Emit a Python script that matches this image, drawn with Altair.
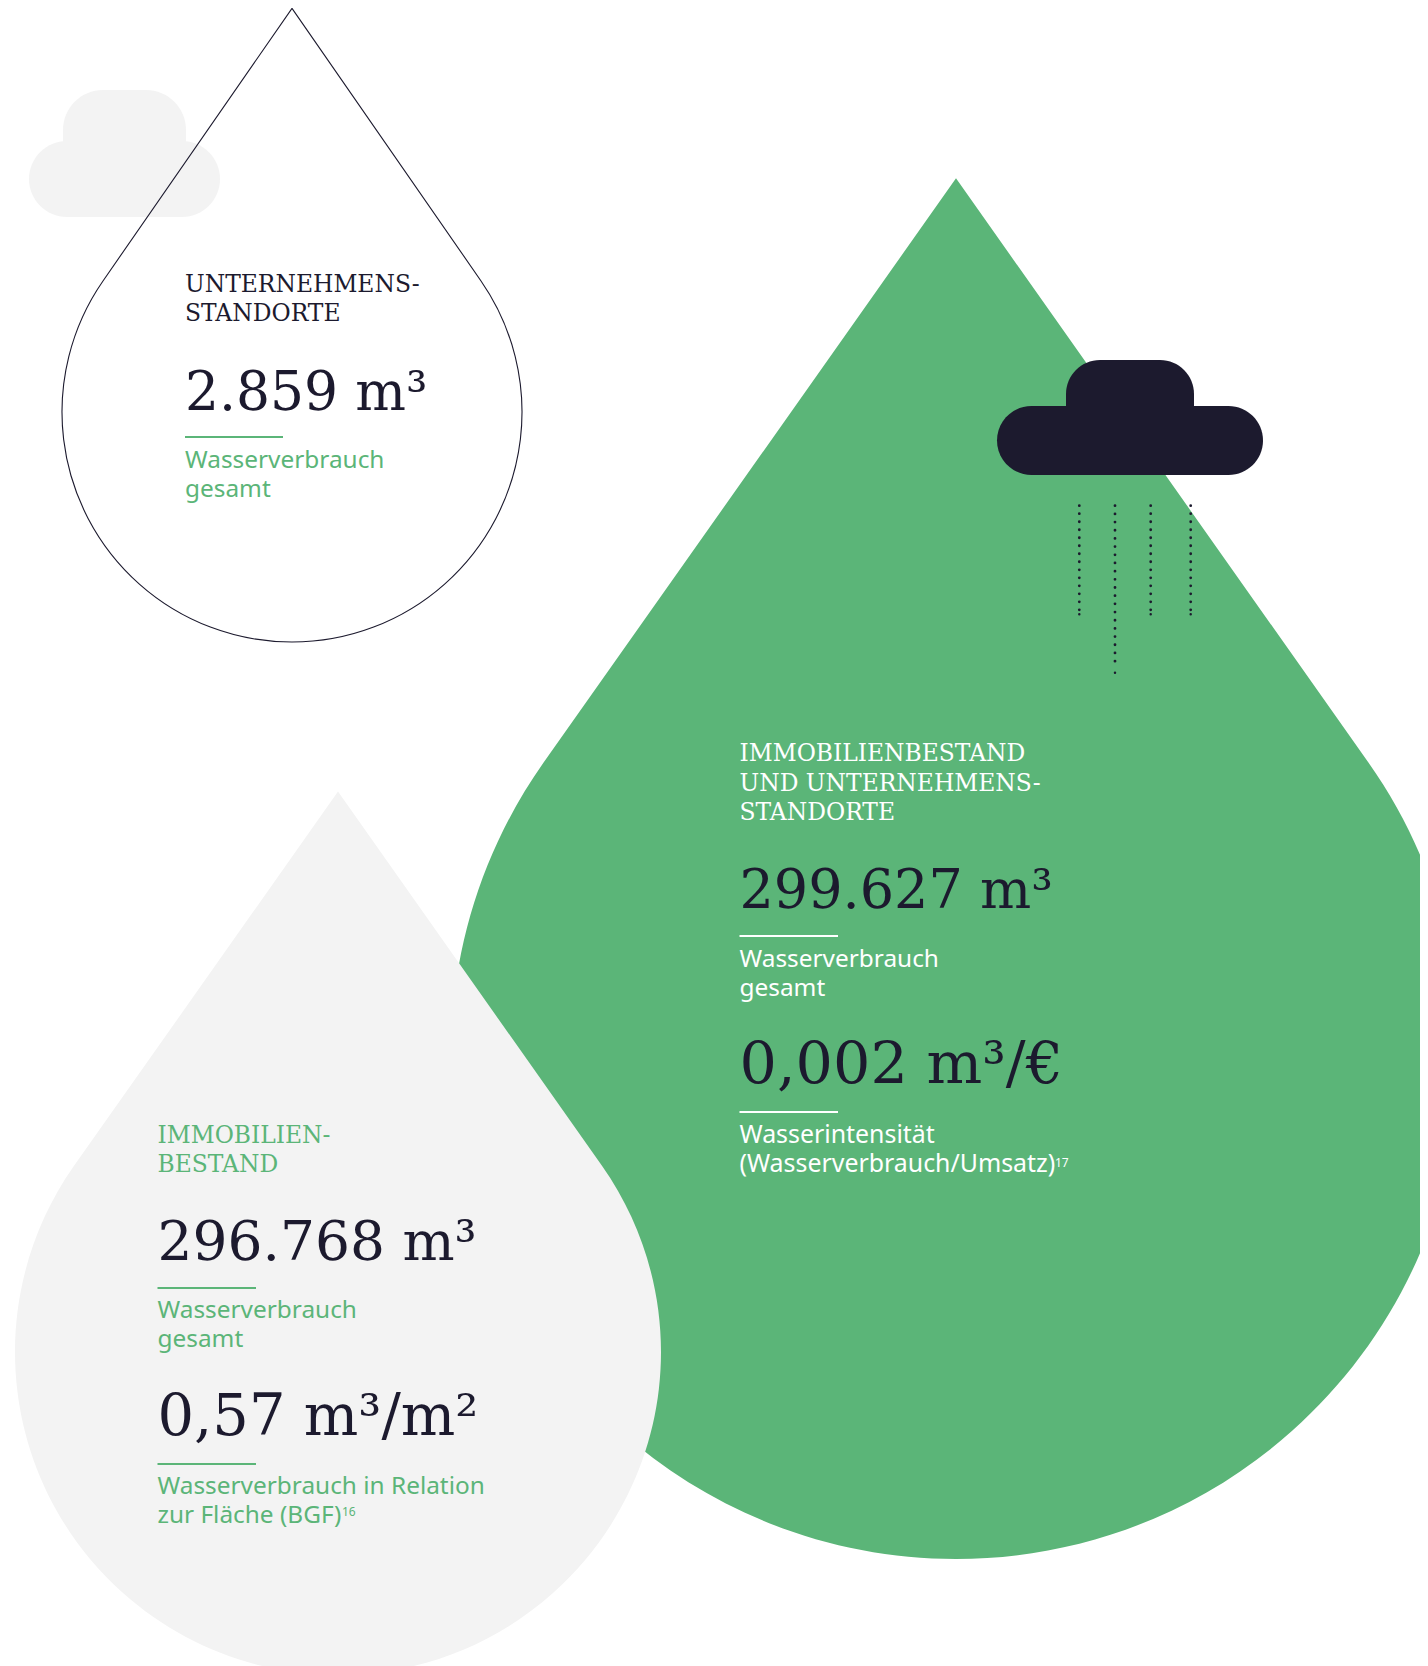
import math
import altair as alt
import pandas as pd

GREEN = "#5bb578"
DARK = "#1c1a2e"
LIGHT = "#f3f3f3"
SERIF = "DejaVu Serif"
SANS = "Noto Sans"

# drop: centre x, centre y, radius, tip distance in radii
DROP_OUTLINE = (292, 412, 230, 1.755)
DROP_GREEN = (956, 1054, 505, 1.734)
DROP_LIGHT = (338, 1352, 323, 1.735)

# cloud parts: x, x2, y, y2
CLOUD_LIGHT_BASE = (29, 220, 141, 217)
CLOUD_LIGHT_TOP = (63, 186, 90, 170)
CLOUD_DARK_BASE = (997, 1263, 406, 475)
CLOUD_DARK_TOP = (1066, 1194, 360, 430)

RAIN_SHORT_X = [1079.3, 1150.7, 1190.7]
RAIN_LONG_X = [1115]
RAIN_TOP = 505.7
RAIN_SHORT_END = 610.5
RAIN_LONG_END = 669
RAIN_LAST_X = [1079.3, 1115, 1150.7, 1190.7]
RAIN_LAST_Y = [614.3, 672.7, 614.3, 614.3]

HEADINGS = [
    ("UNTERNEHMENS-", 185, 292, DARK), ("STANDORTE", 185, 321, DARK),
    ("IMMOBILIENBESTAND", 739.5, 761, "#ffffff"), ("UND UNTERNEHMENS-", 739.5, 790.5, "#ffffff"),
    ("STANDORTE", 739.5, 820, "#ffffff"),
    ("IMMOBILIEN-", 157.5, 1143, GREEN), ("BESTAND", 157.5, 1171.5, GREEN),
]
FIGURES = [
    ("2.859 m³", 185, 410, 53.5), ("299.627 m³", 739.5, 908, 54), ("0,002 m³/€", 739.5, 1083, 58.8),
    ("296.768 m³", 157.5, 1260, 55), ("0,57 m³/m²", 157.5, 1435, 57.5),
]
LABELS = [
    ("Wasserverbrauch", 185, 468, GREEN), ("gesamt", 185, 497, GREEN),
    ("Wasserverbrauch", 739.5, 967, "#ffffff"), ("gesamt", 739.5, 996, "#ffffff"),
    ("Wasserverbrauch", 157.5, 1318, GREEN), ("gesamt", 157.5, 1347, GREEN),
    ("Wasserverbrauch in Relation", 157.5, 1494, GREEN), ("zur Fläche (BGF)", 157.5, 1523, GREEN),
]
LABELS_WIDE = [
    ("Wasserintensität", 739.5, 1143, "#ffffff"), ("(Wasserverbrauch/Umsatz)", 739.5, 1172, "#ffffff"),
]
NOTES = [("17", 1055, 1167, "#ffffff"), ("16", 342, 1516, GREEN)]
RULES = [
    (185, 283, 437, GREEN), (739.5, 838, 936, "#ffffff"), (739.5, 838, 1112, "#ffffff"),
    (157.5, 256, 1288, GREEN), (157.5, 256, 1464, GREEN),
]


def drop_path(ratio):
    a = math.asin(1 / ratio)
    start, span, n = -a, math.pi + 2 * a, 6
    k = 4 / 3 * math.tan(span / n / 4)
    d = f"M0,{-ratio:.4f}L{math.cos(start):.4f},{math.sin(start):.4f}"
    for i in range(n):
        t0, t1 = start + i * span / n, start + (i + 1) * span / n
        d += (f"C{math.cos(t0) - k * math.sin(t0):.4f},{math.sin(t0) + k * math.cos(t0):.4f} "
              f"{math.cos(t1) + k * math.sin(t1):.4f},{math.sin(t1) - k * math.cos(t1):.4f} "
              f"{math.cos(t1):.4f},{math.sin(t1):.4f}")
    return d + "Z"


X = alt.X("x:Q", scale=alt.Scale(domain=[8, 1420], nice=False, zero=False), axis=None)
Y = alt.Y("y:Q", scale=alt.Scale(domain=[1666, 8], nice=False, zero=False), axis=None)


def drop(spec, **style):
    cx, cy, r, ratio = spec
    df = pd.DataFrame({"x": [cx], "y": [cy]})
    return alt.Chart(df).mark_point(shape=drop_path(ratio), size=4 * r * r, clip=True, opacity=1, **style).encode(x=X, y=Y)


def box(spec, color, **corners):
    x, x2, y, y2 = spec
    df = pd.DataFrame({"x": [x], "x2": [x2], "y": [y], "y2": [y2]})
    return alt.Chart(df).mark_rect(color=color, clip=True, **corners).encode(x=X, x2="x2:Q", y=Y, y2="y2:Q")


def texts(rows, font, size, color=None):
    out = []
    for row in rows:
        df = pd.DataFrame({"t": [row[0]], "x": [row[1]], "y": [row[2]]})
        fill = color or row[3]
        out.append(alt.Chart(df).mark_text(align="left", baseline="alphabetic", font=font, fontSize=size, color=fill)
                   .encode(x=X, y=Y, text="t:N"))
    return out


def rain(xs, end, period):
    df = pd.DataFrame({"x": xs, "y": [RAIN_TOP] * len(xs), "y2": [end] * len(xs)})
    return alt.Chart(df).mark_rule(color=DARK, strokeWidth=2.8, strokeCap="round", strokeDash=[0.01, period]) \
        .encode(x=X, y=Y, y2="y2:Q")


rules = pd.DataFrame(RULES, columns=["x", "x2", "y", "c"])
last = pd.DataFrame({"x": RAIN_LAST_X, "y": RAIN_LAST_Y})

layers = [
    box(CLOUD_LIGHT_BASE, LIGHT, cornerRadius=38),
    box(CLOUD_LIGHT_TOP, LIGHT, cornerRadiusTopLeft=40, cornerRadiusTopRight=40),
    drop(DROP_OUTLINE, filled=False, stroke=DARK, strokeWidth=1.1),
    drop(DROP_GREEN, filled=True, fill=GREEN),
    drop(DROP_LIGHT, filled=True, fill=LIGHT),
    box(CLOUD_DARK_BASE, DARK, cornerRadius=34.5),
    box(CLOUD_DARK_TOP, DARK, cornerRadiusTopLeft=34, cornerRadiusTopRight=34),
    rain(RAIN_SHORT_X, RAIN_SHORT_END, 8.0),
    rain(RAIN_LONG_X, RAIN_LONG_END, 8.17),
    alt.Chart(last).mark_circle(color=DARK, size=6.2, opacity=1).encode(x=X, y=Y),
    alt.Chart(rules).mark_rule(strokeWidth=2)
    .encode(x=X, x2="x2:Q", y=Y, color=alt.Color("c:N", scale=None)),
]
layers += texts(HEADINGS, SERIF, 23.4)
for f in FIGURES:
    layers += texts([f[:3]], SERIF, f[3], DARK)
layers += texts(LABELS, SANS, 24.4)
layers += texts(LABELS_WIDE, SANS, 24.9)
layers += texts(NOTES, SANS, 12)

chart = alt.layer(*layers).properties(
    width=1412, height=1658, padding=0, background="#ffffff", autosize=alt.AutoSizeParams(type="none")
).configure_view(stroke=None)

chart.save("out.html", embed_options={"renderer": "svg", "actions": False})
